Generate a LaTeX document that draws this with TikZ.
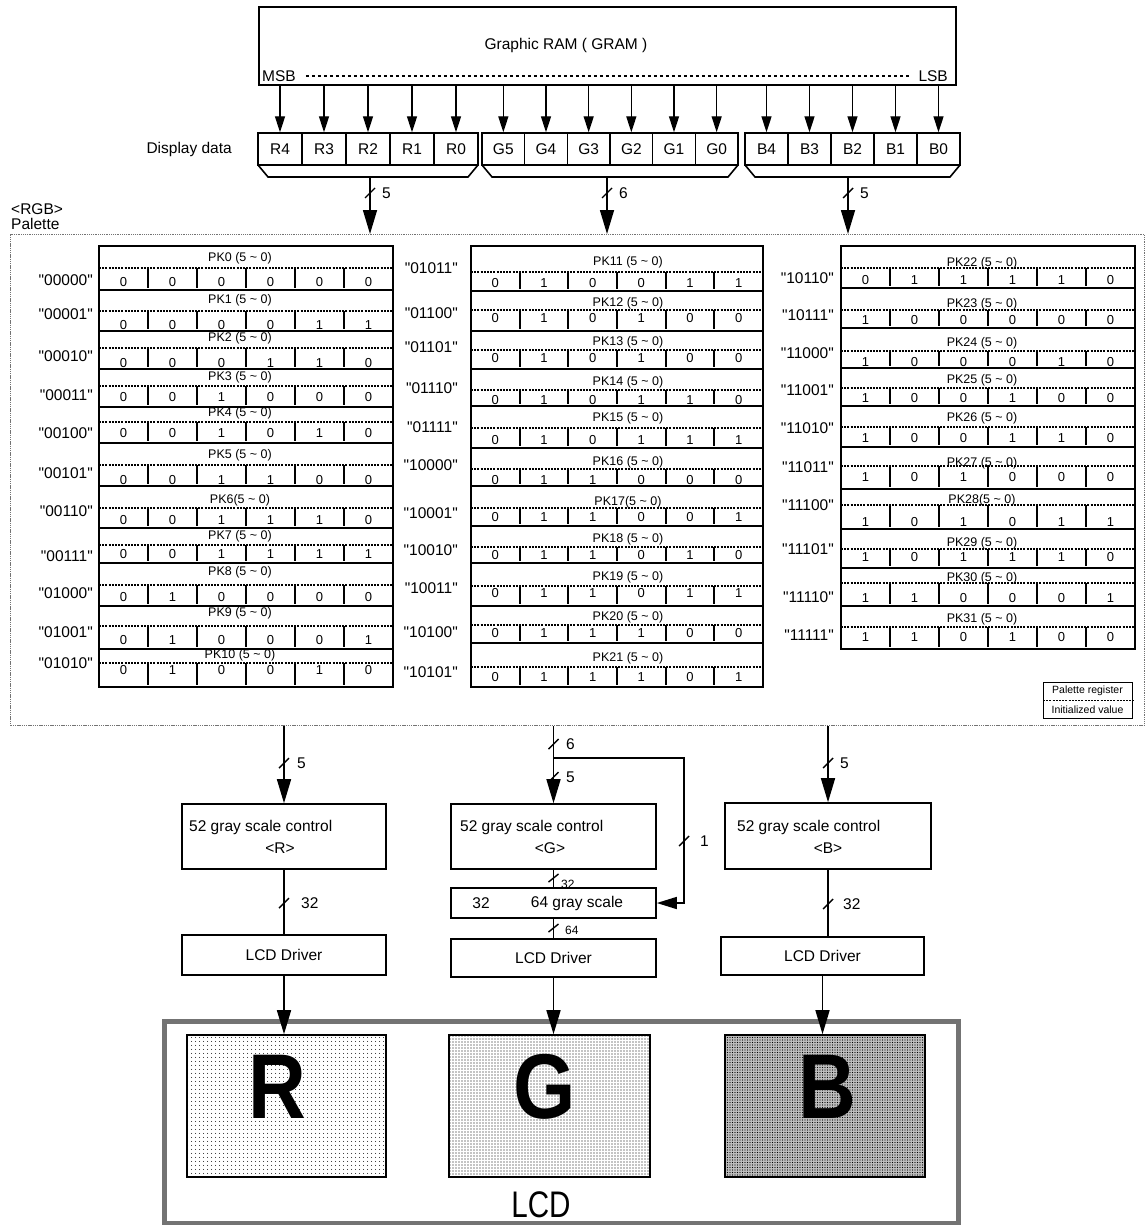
\documentclass[tikz,border=0pt]{standalone}
\usepackage{fontspec}
\usepackage{graphicx}
\setmainfont{Liberation Sans}[Ligatures=TeXOff]
\usetikzlibrary{arrows.meta,patterns.meta}
\newcommand\myfs[1]{\fontsize{#1}{#1}\selectfont}
\newcommand\pkt[1]{PK#1 (5 \textasciitilde{} 0)}
\def\cxa{99}\def\cxb{393}\def\cw{49}\def\pkx{240}\def\qx{93}
\newcommand\pkrow[9]{%
  \draw[rowline] (\cxa,#4) -- (\cxb,#4);
  \draw[dotline] (\cxa,#2) -- (\cxb,#2);
  \node[pklab] (pk#6) at (\pkx,#1) {#7};
  \node[qlab] (q#6) at (\qx,#5) {"#8"};
  \foreach \k in {1,...,5} {\draw[sepbar] (\cxa+\k*\cw,#2) -- (\cxa+\k*\cw,#4-2);}
  \foreach \bv [count=\bi from 0] in {#9} {\node[bitv] (v#6-\bi) at (\cxa+\cw/2+\bi*\cw,#3) {\bv};}
}
\begin{document}
\begin{tikzpicture}[x=1pt,y=-1pt,
  every node/.style={font=\myfs{15.5},inner sep=0pt},
  boxline/.style={draw,line width=1.6pt},
  dcell/.style={draw,line width=1.4pt,minimum height=32pt},
  conn/.style={line width=1.6pt},
  bigarrow/.style={conn,-{Triangle[length=24pt,width=14pt]}},
  smallarrow/.style={line width=1.4pt,-{Triangle[length=16pt,width=10pt]}},
  slashmark/.style={line width=1.4pt},
  rowline/.style={line width=1.3pt},
  dotline/.style={line width=2.1pt,dash pattern=on 2pt off 1.2pt},
  sepbar/.style={line width=2.2pt},
  pklab/.style={font=\myfs{12.5}},
  qlab/.style={anchor=east},
  bitv/.style={font=\myfs{13}},
  smalllab/.style={font=\myfs{12},anchor=west},
  palbox/.style={draw=black!55,line width=1.3pt,dash pattern=on 1.3pt off 0.9pt},
  lcdframe/.style={draw=black!55,line width=5pt},
  panel/.style={draw,line width=1.6pt,minimum height=142pt},
  bigletter/.style={font=\bfseries\myfs{92},anchor=base}
]
\useasboundingbox (0,0) rectangle (1146,1225);

% ---------- GRAM ----------
\node[boxline,minimum width=697pt,minimum height=78pt,anchor=north west] (gram) at (258,6) {};
\node (gramt) at (566,45) {Graphic RAM ( GRAM )};
\node[anchor=west] (msb) at (262,76) {MSB};
\node[anchor=east] (lsb) at (948,76) {LSB};
\draw[line width=1.5pt,dash pattern=on 3pt off 3pt,shorten <=10pt,shorten >=8pt] (msb.east) -- (lsb.west);

% ---------- Display data ----------
\node[anchor=east] (dd) at (232,149) {Display data};
\node[dcell,minimum width=44pt] (R4) at (280,149) {R4};
\node[dcell,minimum width=44pt] (R3) at (324,149) {R3};
\node[dcell,minimum width=44pt] (R2) at (368,149) {R2};
\node[dcell,minimum width=44pt] (R1) at (412,149) {R1};
\node[dcell,minimum width=44pt] (R0) at (456,149) {R0};
\node[dcell,minimum width=42.67pt] (G5) at (503.33,149) {G5};
\node[dcell,minimum width=42.67pt] (G4) at (546,149) {G4};
\node[dcell,minimum width=42.67pt] (G3) at (588.67,149) {G3};
\node[dcell,minimum width=42.67pt] (G2) at (631.33,149) {G2};
\node[dcell,minimum width=42.67pt] (G1) at (674,149) {G1};
\node[dcell,minimum width=42.67pt] (G0) at (716.67,149) {G0};
\node[dcell,minimum width=43pt] (B4) at (766.5,149) {B4};
\node[dcell,minimum width=43pt] (B3) at (809.5,149) {B3};
\node[dcell,minimum width=43pt] (B2) at (852.5,149) {B2};
\node[dcell,minimum width=43pt] (B1) at (895.5,149) {B1};
\node[dcell,minimum width=43pt] (B0) at (938.5,149) {B0};
\foreach \c in {R4,R3,R2,R1,R0,G5,G4,G3,G2,G1,G0,B4,B3,B2,B1,B0}
  {\draw[smallarrow] (\c.north |- gram.south) -- (\c.north);}

% brackets
\draw[boxline] (258,165) -- (268,177) -- (468,177) -- (478,165);
\draw[boxline] (482,165) -- (492,177) -- (728,177) -- (738,165);
\draw[boxline] (745,165) -- (755,177) -- (950,177) -- (960,165);
\coordinate (rb) at (370,177);
\coordinate (gb) at (607,177);
\coordinate (bb) at (848,177);

% ---------- Palette ----------
\node[palbox,minimum width=1134pt,minimum height=491pt,anchor=north west] (pal) at (10,234) {};
\node[anchor=west] (rgbt) at (11,209) {<RGB>};
\node[anchor=west] (palt) at (11,224) {Palette};

\draw[bigarrow] (rb) -- (rb |- pal.north);
\draw[bigarrow] (gb) -- (gb |- pal.north);
\draw[bigarrow] (bb) -- (bb |- pal.north);
\draw[slashmark] (370,193) ++(-5,5) -- ++(10,-10);
\draw[slashmark] (607,193) ++(-5,5) -- ++(10,-10);
\draw[slashmark] (848,193) ++(-5,5) -- ++(10,-10);
\node[anchor=west] (lbr) at (382,193) {5};
\node[anchor=west] (lbg) at (619,193) {6};
\node[anchor=west] (lbb) at (860,193) {5};

% column 1
\draw[boxline] (99,246) rectangle (393,687);
\pkrow{258}{268}{282}{290}{280}{0}{\pkt{0}}{00000}{0,0,0,0,0,0}
\pkrow{300}{311}{325}{331}{314}{1}{\pkt{1}}{00001}{0,0,0,0,1,1}
\pkrow{338}{348}{363}{369}{356}{2}{\pkt{2}}{00010}{0,0,0,1,1,0}
\pkrow{377}{386}{397}{407}{395}{3}{\pkt{3}}{00011}{0,0,1,0,0,0}
\pkrow{413}{422}{433}{443}{433}{4}{\pkt{4}}{00100}{0,0,1,0,1,0}
\pkrow{455}{465}{480}{486}{473}{5}{\pkt{5}}{00101}{0,0,1,1,0,0}
\pkrow{500}{508}{520}{528}{511}{6}{PK6(5 \textasciitilde{} 0)}{00110}{0,0,1,1,1,0}
\pkrow{536}{545}{554}{563}{556}{7}{\pkt{7}}{00111}{0,0,1,1,1,1}
\pkrow{572}{585}{597}{606}{593}{8}{\pkt{8}}{01000}{0,1,0,0,0,0}
\pkrow{613}{626}{640}{649}{632}{9}{\pkt{9}}{01001}{0,1,0,0,0,1}
\pkrow{655}{663}{670}{687}{663}{10}{\pkt{10}}{01010}{0,1,0,0,1,0}

% column 2
\def\cxa{471}\def\cxb{763}\def\cw{48.67}\def\pkx{628}\def\qx{458}
\draw[boxline] (471,246) rectangle (763,687);
\pkrow{262}{272}{283}{291}{268}{11}{\pkt{11}}{01011}{0,1,0,0,1,1}
\pkrow{303}{310}{318}{331}{313}{12}{\pkt{12}}{01100}{0,1,0,1,0,0}
\pkrow{342}{350}{358}{369}{347}{13}{\pkt{13}}{01101}{0,1,0,1,0,0}
\pkrow{382}{390}{400}{406}{388}{14}{\pkt{14}}{01110}{0,1,0,1,1,0}
\pkrow{418}{428}{440}{448}{427}{15}{\pkt{15}}{01111}{0,1,0,1,1,1}
\pkrow{462}{469}{480}{486}{465}{16}{\pkt{16}}{10000}{0,1,1,0,0,0}
\pkrow{502}{508}{517}{526}{513}{17}{PK17(5 \textasciitilde{} 0)}{10001}{0,1,1,0,0,1}
\pkrow{539}{547}{555}{563}{550}{18}{\pkt{18}}{10010}{0,1,1,0,1,0}
\pkrow{577}{586}{593}{606}{588}{19}{\pkt{19}}{10011}{0,1,1,0,1,1}
\pkrow{617}{625}{633}{643}{632}{20}{\pkt{20}}{10100}{0,1,1,1,0,0}
\pkrow{658}{667}{677}{687}{672}{21}{\pkt{21}}{10101}{0,1,1,1,0,1}

% column 3
\def\cxa{841}\def\cxb{1135}\def\cw{49}\def\pkx{982}\def\qx{834}
\draw[boxline] (841,246) rectangle (1135,649);
\pkrow{263}{268}{280}{288}{278}{22}{\pkt{22}}{10110}{0,1,1,1,1,0}
\pkrow{304}{310}{320}{328}{315}{23}{\pkt{23}}{10111}{1,0,0,0,0,0}
\pkrow{343}{351}{362}{368}{353}{24}{\pkt{24}}{11000}{1,0,0,0,1,0}
\pkrow{380}{388}{398}{406}{390}{25}{\pkt{25}}{11001}{1,0,0,1,0,0}
\pkrow{418}{427}{438}{447}{428}{26}{\pkt{26}}{11010}{1,0,0,1,1,0}
\pkrow{463}{466}{477}{489}{467}{27}{\pkt{27}}{11011}{1,0,1,0,0,0}
\pkrow{500}{505}{522}{529}{505}{28}{PK28(5 \textasciitilde{} 0)}{11100}{1,0,1,0,1,1}
\pkrow{543}{549}{557}{568}{549}{29}{\pkt{29}}{11101}{1,0,1,1,1,0}
\pkrow{578}{583}{598}{606}{597}{30}{\pkt{30}}{11110}{1,1,0,0,0,1}
\pkrow{619}{627}{637}{649}{635}{31}{\pkt{31}}{11111}{1,1,0,1,0,0}

% legend
\node[draw,line width=1.4pt,minimum width=89pt,minimum height=36pt,anchor=north west] (legend) at (1043,682) {};
\draw[dotline,line width=1.5pt] (legend.west) -- (legend.east);
\node[font=\myfs{10.5}] (lg1) at (1087.5,691) {Palette register};
\node[font=\myfs{10.5}] (lg2) at (1087.5,710) {Initialized value};

% ---------- gray scale section ----------
\node[boxline,minimum width=204pt,minimum height=65pt] (grR) at (284,836.5) {};
\node[anchor=west] (grRa) at (189,827) {52 gray scale control};
\node (grRb) at (280,848) {<R>};
\node[boxline,minimum width=205pt,minimum height=65pt] (grG) at (553.5,836.5) {};
\node[anchor=west] (grGa) at (460,827) {52 gray scale control};
\node (grGb) at (550,848) {<G>};
\node[boxline,minimum width=206pt,minimum height=66pt] (grB) at (828,836) {};
\node[anchor=west] (grBa) at (737,827) {52 gray scale control};
\node (grBb) at (828,848) {<B>};

\node[boxline,minimum width=205pt,minimum height=30pt] (gs64) at (553.5,903) {};
\node (gs32t) at (481,903) {32};
\node (gs64t) at (577,903) {64 gray scale};

\node[boxline,minimum width=204pt,minimum height=40pt] (drvR) at (284,955) {LCD Driver};
\node[boxline,minimum width=205pt,minimum height=38pt] (drvG) at (553.5,958) {LCD Driver};
\node[boxline,minimum width=203pt,minimum height=38pt] (drvB) at (822.5,956) {LCD Driver};

% R chain
\draw[bigarrow] (grR.north |- pal.south) -- (grR.north);
\draw[slashmark] (284,763) ++(-5,5) -- ++(10,-10);
\node[anchor=west] (lr1) at (297,763) {5};
\draw[conn] (grR.south) -- (drvR.north);
\draw[slashmark] (284,903) ++(-5,5) -- ++(10,-10);
\node[anchor=west] (lr2) at (301,903) {32};

% G chain
\draw[bigarrow] (grG.north |- pal.south) -- (grG.north);
\coordinate (gsplit) at (553.5,758);
\coordinate (gcorner) at (684,758);
\draw[conn,-{Triangle[length=20pt,width=12pt]}] (gsplit) -- (gcorner) |- (gs64.east);
\draw[slashmark] (553.5,744) ++(-5,5) -- ++(10,-10);
\node[anchor=west] (lg6) at (566,744) {6};
\draw[slashmark] (553.5,777) ++(-5,5) -- ++(10,-10);
\node[anchor=west] (lg5) at (566,777) {5};
\draw[slashmark] (684,841) ++(-5,5) -- ++(10,-10);
\node[anchor=west] (lg1b) at (700,841) {1};
\draw[conn] (grG.south) -- (gs64.north);
\draw[slashmark] (553.5,878) ++(-5,4) -- ++(10,-8);
\node[smalllab] (lg32) at (561,884) {32};
\draw[conn] (gs64.south) -- (drvG.north);
\draw[slashmark] (553.5,928) ++(-5,4) -- ++(10,-8);
\node[smalllab] (lg64) at (565,930) {64};

% B chain
\draw[bigarrow] (grB.north |- pal.south) -- (grB.north);
\draw[slashmark] (828,763) ++(-5,5) -- ++(10,-10);
\node[anchor=west] (lb1) at (840,763) {5};
\draw[conn] (grB.south) -- (grB.south |- drvB.north);
\draw[slashmark] (828,904) ++(-5,5) -- ++(10,-10);
\node[anchor=west] (lb2) at (843,904) {32};

% ---------- LCD ----------
\node[lcdframe,minimum width=794pt,minimum height=202pt,anchor=north west] (lcd) at (161.5,1019) {};
\node[panel,minimum width=199pt,pattern={Dots[distance=4pt,radius=0.6pt]}] (panR) at (286.5,1106) {};
\node[panel,minimum width=201pt,pattern={Dots[distance=3pt,radius=0.6pt]}] (panG) at (549.5,1106) {};
\node[panel,minimum width=200pt,preaction={fill=black!25},pattern={Dots[distance=2.5pt,radius=0.6pt]}] (panB) at (825,1106) {};
\node[bigletter] (letR) at (277,1118) {\scalebox{0.87}[1]{R}};
\node[bigletter] (letG) at (545,1118) {\scalebox{0.87}[1]{G}};
\node[bigletter] (letB) at (827,1118) {\scalebox{0.87}[1]{B}};
\node[font=\myfs{37},anchor=base] (lcdt) at (541,1217) {\scalebox{0.8}[1]{LCD}};

\draw[bigarrow] (drvR.south) -- (drvR.south |- panR.north);
\draw[bigarrow] (drvG.south) -- (drvG.south |- panG.north);
\draw[bigarrow] (drvB.south) -- (drvB.south |- panB.north);
\end{tikzpicture}
\end{document}
